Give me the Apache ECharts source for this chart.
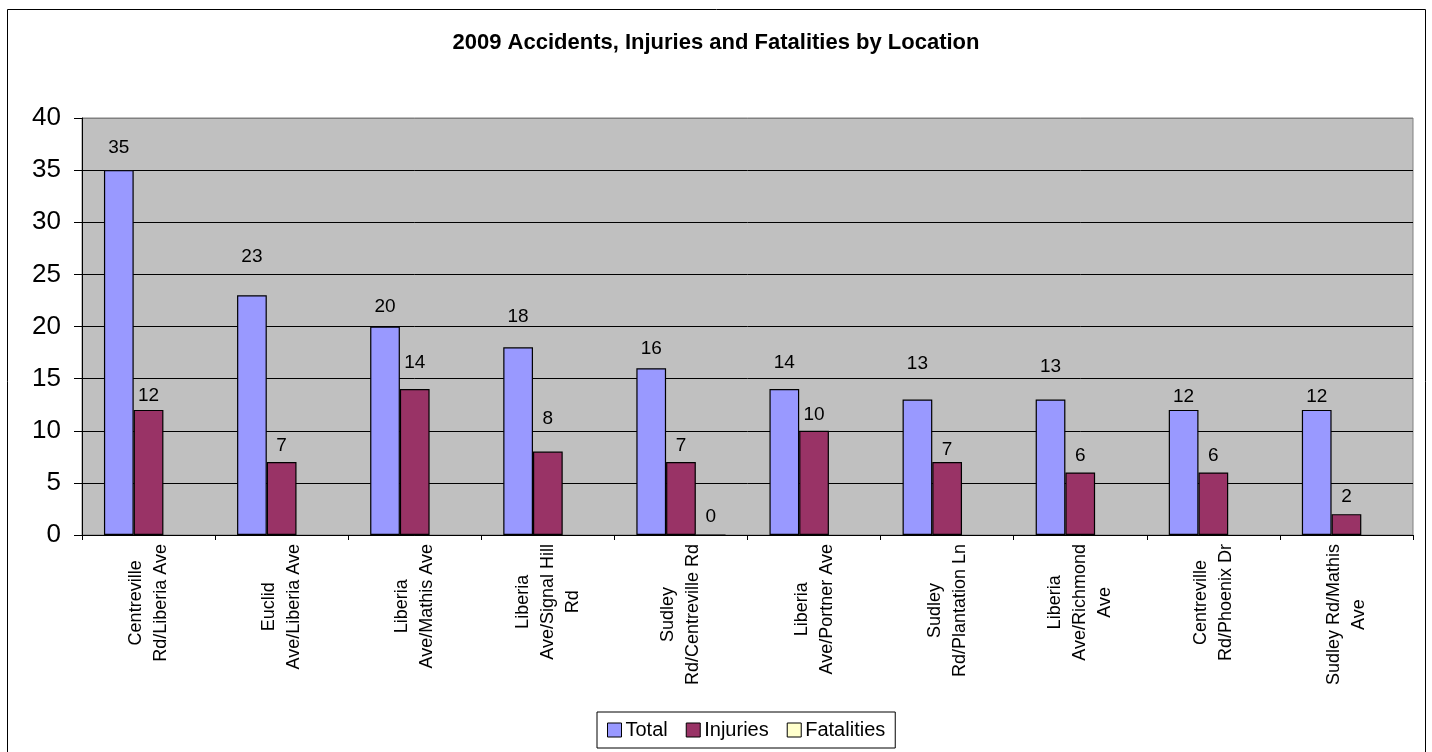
<!DOCTYPE html>
<html>
<head>
<meta charset="utf-8">
<script src="https://cdn.jsdelivr.net/npm/echarts@6/dist/echarts.min.js"></script>
<style>
html,body{margin:0;padding:0;background:#fff;}
#chart{width:1432px;height:752px;}
</style>
</head>
<body>
<div id="chart"></div>
<script>
// ---- data ----
const categories = [
  "Centreville\nRd/Liberia Ave",
  "Euclid\nAve/Liberia Ave",
  "Liberia\nAve/Mathis Ave",
  "Liberia\nAve/Signal Hill\nRd",
  "Sudley\nRd/Centreville Rd",
  "Liberia\nAve/Portner Ave",
  "Sudley\nRd/Plantation Ln",
  "Liberia\nAve/Richmond\nAve",
  "Centreville\nRd/Phoenix Dr",
  "Sudley Rd/Mathis\nAve"
];
const total      = [35, 23, 20, 18, 16, 14, 13, 13, 12, 12];
const injuries   = [12, 7, 14, 8, 7, 10, 7, 6, 6, 2];
const fatalities = [null, null, null, null, 0, null, null, null, null, null];
const seriesNames = ["Total", "Injuries", "Fatalities"];
const yTicks = [0, 5, 10, 15, 20, 25, 30, 35, 40];

// ---- styling (label lift in px, as placed in the original) ----
const totalLift    = [9, 25, 7, 18, 6, 13, 23, 20, 0, 0];
const injuryLift   = [1, 3, 13, 20, 3, 3, -1, 4, 4, 4];
const fatalityLift = [0, 0, 0, 0, 5, 0, 0, 0, 0, 0];
const colors = ["#9999FF", "#993366", "#FFFFCC"];
const FONT = "Liberation Sans, Arial, sans-serif";

function withLift(values, lifts) {
  return values.map((v, i) => ({
    value: v,
    label: { offset: [0, -lifts[i]] }
  }));
}

const chart = echarts.init(document.getElementById('chart'), null, {renderer: 'canvas'});

const barLabel = {
  show: true,
  position: 'top',
  distance: 3.5,
  color: '#000',
  fontSize: 19,
  fontFamily: FONT
};

const option = {
  backgroundColor: '#fff',
  animation: false,
  title: {
    text: '2009 Accidents, Injuries and Fatalities by Location',
    left: 'center',
    top: 32,
    padding: 0,
    textStyle: { fontSize: 22, fontWeight: 'bold', color: '#000', fontFamily: FONT }
  },
  legend: {
    data: seriesNames,
    left: 597,
    top: 712,
    orient: 'horizontal',
    padding: [8, 10, 8, 10],
    itemGap: 18,
    itemWidth: 14,
    itemHeight: 14,
    icon: 'rect',
    borderColor: '#000',
    borderWidth: 1,
    backgroundColor: '#fff',
    itemStyle: { borderColor: '#000', borderWidth: 1 },
    textStyle: { fontSize: 20, color: '#000', fontFamily: FONT, padding: [0, 0, 0, -1] }
  },
  grid: {
    left: 82, right: 19, top: 118, bottom: 217,
    show: true,
    backgroundColor: '#C0C0C0',
    borderColor: '#808080',
    borderWidth: 1,
    containLabel: false,
    outerBoundsMode: 'none'
  },
  xAxis: {
    type: 'category',
    data: categories,
    boundaryGap: true,
    axisLine: { show: true, lineStyle: { color: '#000', width: 1 } },
    axisTick: { show: true, length: 5, alignWithLabel: false, lineStyle: { color: '#000' } },
    splitLine: { show: false },
    axisLabel: {
      interval: 0,
      rotate: 90,
      margin: 9,
      hideOverlap: false,
      color: '#000',
      fontSize: 18,
      fontFamily: FONT,
      lineHeight: 25,
      formatter: function (v) {
        return v.split('\n').map(s => '{c|' + s + '}').join('\n');
      },
      rich: {
        c: { align: 'center', fontSize: 18, lineHeight: 25, fontFamily: FONT, color: '#000' }
      }
    }
  },
  yAxis: {
    type: 'value',
    min: yTicks[0],
    max: yTicks[yTicks.length - 1],
    interval: yTicks[1] - yTicks[0],
    axisLine: { show: true, lineStyle: { color: '#000', width: 1 } },
    axisTick: { show: true, length: 8, inside: false, lineStyle: { color: '#000' } },
    splitLine: {
      show: true,
      lineStyle: { color: ['#000', '#000', '#000', '#000', '#000', '#000', '#000', '#000', '#808080'], width: 1 }
    },
    axisLabel: { color: '#000', fontSize: 26, fontFamily: FONT, margin: 21 }
  },
  series: [
    {
      name: seriesNames[0], type: 'bar',
      data: withLift(total, totalLift),
      barGap: '0%', barCategoryGap: '33%',
      itemStyle: { color: colors[0], borderColor: '#000', borderWidth: 1.2 },
      label: barLabel
    },
    {
      name: seriesNames[1], type: 'bar',
      data: withLift(injuries, injuryLift),
      barGap: '0%', barCategoryGap: '33%',
      itemStyle: { color: colors[1], borderColor: '#000', borderWidth: 1.2 },
      label: barLabel
    },
    {
      name: seriesNames[2], type: 'bar',
      data: withLift(fatalities, fatalityLift),
      barGap: '0%', barCategoryGap: '33%',
      itemStyle: { color: colors[2], borderColor: '#000', borderWidth: 1.2 },
      label: barLabel
    }
  ],
  graphic: [
    {
      type: 'rect',
      silent: true,
      z: 100,
      shape: { x: 7.5, y: 9.5, width: 1418, height: 780 },
      style: { fill: null, stroke: '#000', lineWidth: 1 }
    }
  ]
};

chart.setOption(option);
</script>
</body>
</html>
